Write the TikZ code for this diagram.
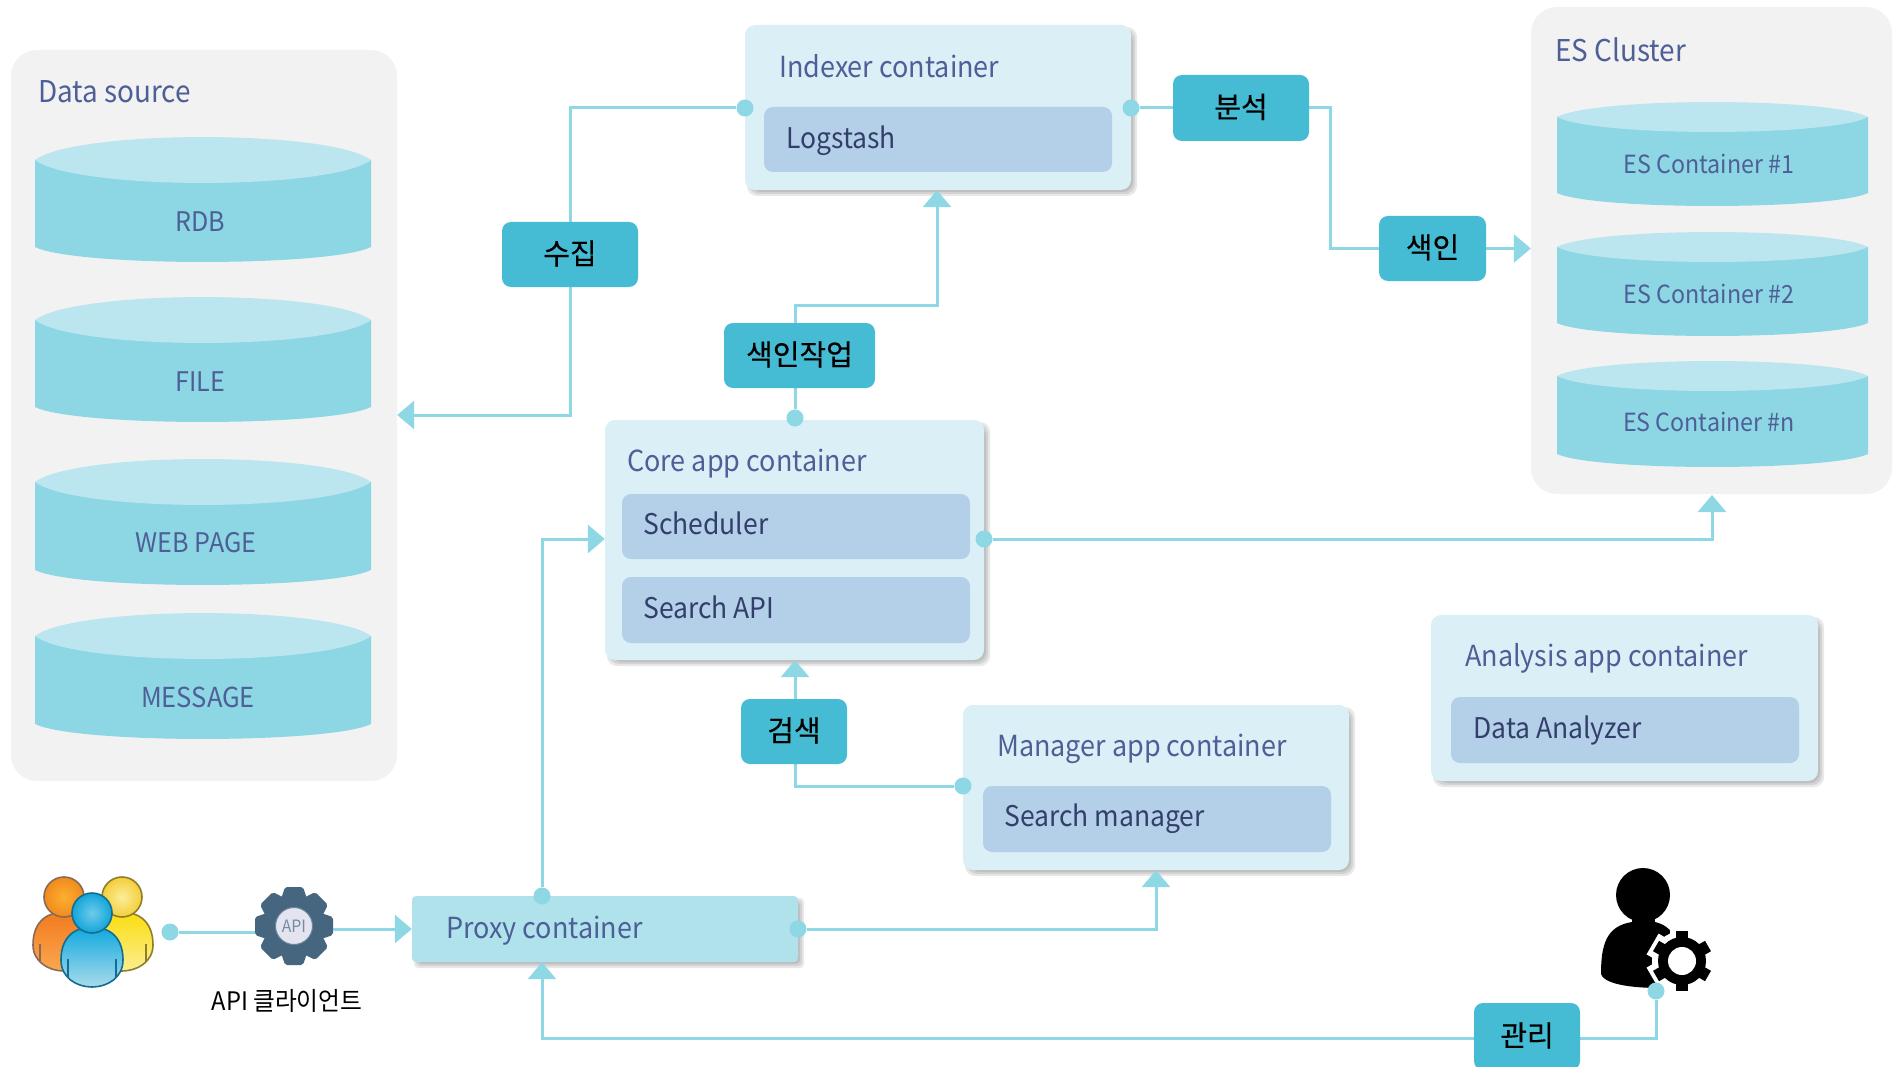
\documentclass[tikz,border=0pt]{standalone}
\usepackage{fontspec}
\setmainfont[FakeStretch=0.93]{Noto Sans CJK KR}
\newfontfamily\tagfont[FakeBold=0.35]{Noto Sans CJK KR}
\usetikzlibrary{arrows.meta}
\definecolor{lineC}{HTML}{8ED7E5}
\definecolor{tagC}{HTML}{45BBD4}
\definecolor{contC}{HTML}{DAF0F6}
\definecolor{innerC}{HTML}{B4D0E8}
\definecolor{proxyC}{HTML}{B0E2EC}
\definecolor{cylC}{HTML}{8DD6E4}
\definecolor{cylT}{HTML}{BCE6EF}
\definecolor{bgC}{HTML}{F2F2F2}
\definecolor{txtC}{HTML}{4E5F98}
\definecolor{txtD}{HTML}{333F6B}
\definecolor{gearC}{HTML}{46667F}
\definecolor{gearL}{HTML}{E4E4F0}
\pgfdeclarelayer{top}
\pgfsetlayers{main,top}
\tikzset{
  panel/.style={fill=bgC,rounded corners=26pt},
  cont/.style={fill=contC,rounded corners=10pt},
  inner/.style={fill=innerC,rounded corners=9pt},
  proxybox/.style={fill=proxyC,rounded corners=4pt},
  tag/.style={fill=tagC,rounded corners=9pt,text=black,font=\tagfont\fontsize{29}{32}\selectfont},
  lab/.style={anchor=west,inner sep=0pt,yshift=-8pt,text height=.74em,text depth=.2em,text=txtC,font=\fontsize{29}{32}\selectfont},
  labBig/.style={lab,font=\fontsize{30}{32}\selectfont},
  labD/.style={lab,text=txtD,font=\fontsize{28.5}{32}\selectfont},
  cyltext/.style={inner sep=0pt,yshift=-7pt,text=txtC,text height=.74em,text depth=.2em,font=\fontsize{25}{30}\selectfont},
  conn/.style={draw=lineC,line width=3pt},
  arr/.style={conn,-{Triangle[length=17pt,width=28pt]}},
  dot/.style={circle,fill=lineC,inner sep=0pt,minimum size=17pt},
}
\newcommand\rbox[7]{%
  \pgfmathsetmacro\bw{#5-#3}\pgfmathsetmacro\bh{#6-#4}%
  \pgfmathsetmacro\cx{(#3+#5)/2}\pgfmathsetmacro\cy{(#4+#6)/2}%
  \node[#2,minimum width=\bw pt,minimum height=\bh pt,inner sep=0pt] (#1) at (\cx,\cy) {\raisebox{4.5pt}{#7}};}
\newcommand\shad[5][10pt]{%
  \foreach \k in {-3,-1,1,3}{%
    \fill[black,opacity=.09,rounded corners=#1] (#2+5-\k,#3+5-\k) rectangle (#4+3+\k,#5+3+\k);}}
\newcommand\cyl[8]{%
  \pgfmathsetmacro\dx{(#4-#2)*.12}%
  \pgfmathsetmacro\yt{#3+#6}\pgfmathsetmacro\yb{#5-#7}%
  \fill[cylC] (#2,\yt) -- (#2,\yb) .. controls (#2+\dx,#5+#7*.33) and (#4-\dx,#5+#7*.33) .. (#4,\yb) -- (#4,\yt) -- cycle;
  \fill[cylT] (#2,\yt) .. controls (#2+\dx,#3-#6*.33) and (#4-\dx,#3-#6*.33) .. (#4,\yt)
     .. controls (#4-\dx,#3+2.33*#6) and (#2+\dx,#3+2.33*#6) .. (#2,\yt) -- cycle;
  \node[cyltext] (#1) at (#8) {\csname cyltxt#1\endcsname};}
\newcommand\person[4]{%
  \fill[top color=pTop,bottom color=pBot,draw=pLine,line width=1.6pt]
    (#1-31,#3+33) .. controls (#1-31,#3+8) and (#1-15,#3) .. (#1,#3)
    .. controls (#1+15,#3) and (#1+31,#3+8) .. (#1+31,#3+33)
    .. controls (#1+31,#4-9) and (#1+15,#4) .. (#1,#4)
    .. controls (#1-15,#4) and (#1-31,#4-9) .. (#1-31,#3+33) -- cycle;
  \draw[pLine,line width=1.2pt] (#1-24,#3+32) -- (#1-24,#4-10) (#1+24,#3+32) -- (#1+24,#4-10);
  \shade[inner color=pHi,outer color=pLo,draw=pLine,line width=1.6pt] (#1,#2) circle[radius=20];}
\begin{document}
\begin{tikzpicture}[x=1pt,y=-1pt]
\useasboundingbox (0,0) rectangle (1902,1067);
\fill[white] (0,0) rectangle (1902,1067);
% tags on the top layer
\begin{pgfonlayer}{top}
\rbox{tagCollect}{tag}{502}{222}{638}{287}{수집}
\rbox{tagAnalyse}{tag}{1173}{75}{1309}{141}{분석}
\rbox{tagIndex}{tag}{1379}{216}{1486}{281}{색인}
\rbox{tagJob}{tag}{724}{323}{875}{388}{색인작업}
\rbox{tagSearch}{tag}{741}{699}{847}{764}{검색}
\rbox{tagManage}{tag}{1474}{1003}{1580}{1070}{관리}
\end{pgfonlayer}
% panels
\rbox{dataPanel}{panel}{11}{50}{397}{781}{}
\rbox{esPanel}{panel}{1531}{7}{1892}{494}{}
\node[labBig] (dataLab) at (38,92) {Data source};
\node[labBig] (esLab) at (1555,51) {ES Cluster};
% cylinders
\def\cyltxtrdb{\fontsize{27}{30}\selectfont RDB}\def\cyltxtfile{\fontsize{27}{30}\selectfont FILE}\def\cyltxtweb{\fontsize{27}{30}\selectfont WEB PAGE}\def\cyltxtmsg{\fontsize{27.5}{30}\selectfont MESSAGE}
\def\cyltxtesa{ES Container \#1}\def\cyltxtesb{ES Container \#2}\def\cyltxtesc{ES Container \#n}
\cyl{rdb}{35}{137}{371}{262}{23}{15}{200,222}
\cyl{file}{35}{297}{371}{422}{23}{15}{200,382}
\cyl{web}{35}{459}{371}{585}{23}{15}{196,543}
\cyl{msg}{35}{613}{371}{739}{23}{15}{198,698}
\cyl{esa}{1557}{102}{1868}{206}{15}{13}{1709,164}
\cyl{esb}{1557}{232}{1868}{336}{15}{13}{1709,294}
\cyl{esc}{1557}{361}{1868}{467}{15}{13}{1709,422}
% containers
\shad{745}{25}{1131}{190}
\rbox{indexer}{cont}{745}{25}{1131}{190}{}
\rbox{logstash}{inner}{764}{107}{1112}{172}{}
\node[lab] (indexerLab) at (779,67) {Indexer container};
\node[labD] (logstashLab) at (786,138) {Logstash};
\shad{605}{420}{984}{660}
\rbox{core}{cont}{605}{420}{984}{660}{}
\rbox{sched}{inner}{622}{494}{970}{559}{}
\rbox{api}{inner}{622}{577}{970}{643}{}
\node[lab] (coreLab) at (627,461) {Core app container};
\node[labD] (schedLab) at (643,524) {Scheduler};
\node[labD] (apiLab) at (643,608) {Search API};
\shad{963}{705}{1349}{870}
\rbox{manager}{cont}{963}{705}{1349}{870}{}
\rbox{smgr}{inner}{983}{786}{1331}{852}{}
\node[lab] (managerLab) at (997,746) {Manager app container};
\node[labD] (smgrLab) at (1004,816) {Search manager};
\shad{1431}{615}{1818}{781}
\rbox{analysis}{cont}{1431}{615}{1818}{781}{}
\rbox{analyzer}{inner}{1451}{697}{1799}{763}{}
\node[lab] (analysisLab) at (1465,656) {Analysis app container};
\node[labD] (analyzerLab) at (1473,728) {Data Analyzer};
\shad[4pt]{412}{896}{798}{962}
\rbox{proxy}{proxybox}{412}{896}{798}{962}{}
\node[lab] (proxyLab) at (446,928) {Proxy container};
% people icon
\definecolor{pHi}{HTML}{FCB030}\definecolor{pLo}{HTML}{F08A1E}\definecolor{pTop}{HTML}{F37A1E}\definecolor{pBot}{HTML}{F9A850}\definecolor{pLine}{HTML}{8A6A55}
\person{64}{897}{912}{971}
\definecolor{pHi}{HTML}{FBEE9A}\definecolor{pLo}{HTML}{F4CE3A}\definecolor{pTop}{HTML}{FBDD10}\definecolor{pBot}{HTML}{FBEE90}\definecolor{pLine}{HTML}{8C7E2A}
\person{122}{897}{912}{971}
\definecolor{pHi}{HTML}{6FCBEA}\definecolor{pLo}{HTML}{12A5DB}\definecolor{pTop}{HTML}{10A8DF}\definecolor{pBot}{HTML}{A8DBEB}\definecolor{pLine}{HTML}{146C90}
\person{92}{913}{927}{987}
% API gear
\foreach \a in {0,45,...,315}{%
  \fill[gearC,rounded corners=2pt,rotate around={\a:(294,926)}] (285,887) -- (303,887) -- (309,905) -- (279,905) -- cycle;}
\fill[gearC] (294,926) circle[radius=30];
\node[circle,minimum size=78pt,inner sep=0pt] (gearBound) at (294,926) {};
\node[circle,fill=gearL,draw=gearC!80,line width=1pt,minimum size=37pt,inner sep=0pt,text=gearC!75,font=\fontsize{17}{18}\selectfont] (apiGear) at (294,926) {\raisebox{-1pt}{API}};
\node[inner sep=0pt,text=black,font=\fontsize{25.5}{30}\selectfont] (apiCaption) at (287,1001) {API 클라이언트};
% admin icon
\fill[black] (1643,895) circle[radius=27];
\fill[black] (1632,915) rectangle (1655,930);
\fill[black] (1601,974) .. controls (1601,945) and (1606,926) .. (1632,922) -- (1655,922)
   .. controls (1672,926) and (1680,940) .. (1682,961) -- (1660,988)
   .. controls (1640,988) and (1605,986) .. (1601,974) -- cycle;
\foreach \a in {0,60,...,300}{%
  \fill[white,rotate around={\a:(1682,961)}] (1670,927) rectangle (1694,950);}
\fill[white] (1682,961) circle[radius=30];
\fill[black] (1682,961) circle[radius=24];
\foreach \a in {0,60,...,300}{%
  \fill[black,rotate around={\a:(1682,961)}] (1676,931) rectangle (1688,945);}
\fill[white] (1682,961) circle[radius=14];
% anchor points
\node[dot] (dIdxW) at (745,108) {};
\node[dot] (dIdxE) at (1131,108) {};
\node[dot] (dCoreN) at (795,418) {};
\node[dot] (dCoreE) at (984,539) {};
\node[dot] (dProxyN) at (542,896) {};
\node[dot] (dProxyE) at (798,929) {};
\node[dot] (dMgrW) at (963,786) {};
\node[dot] (dPeople) at (170,932) {};
\node[dot] (dAdmin) at (1656,991) {};
\coordinate (bendJob) at (937,305);
\coordinate (bendCollect) at (570,415);
\coordinate (bendAnalyse) at (1330,180);
\coordinate (bendManage) at (1656,1038);
\coordinate (esIn) at (1712,495);
% connectors
\draw[conn] (dIdxW) -| (tagCollect.north);
\draw[arr] (tagCollect.south) |- (dataPanel.east |- bendCollect);
\draw[conn] (dIdxE) -- (tagAnalyse.west |- dIdxE);
\draw[conn] (tagAnalyse.east |- dIdxE) -| (bendAnalyse) |- (tagIndex.west);
\draw[arr] (tagIndex.east) -- (esPanel.west |- tagIndex);
\draw[arr] (dCoreN) |- (bendJob) -- (indexer.south -| bendJob);
\draw[arr] (dCoreE) -| (esIn);
\draw[arr] (dProxyN) |- (core.west |- dCoreE);
\draw[arr] (dMgrW) -| (core.south -| dCoreN);
\draw[arr] (dProxyE) -| (manager.south);
\draw[conn] (dPeople) -- (gearBound.west |- dPeople);
\draw[arr] (gearBound.east |- proxy) -- (proxy.west);
\draw[arr] (dAdmin) -- (bendManage) -| (proxy.south -| dProxyN);
\end{tikzpicture}
\end{document}
